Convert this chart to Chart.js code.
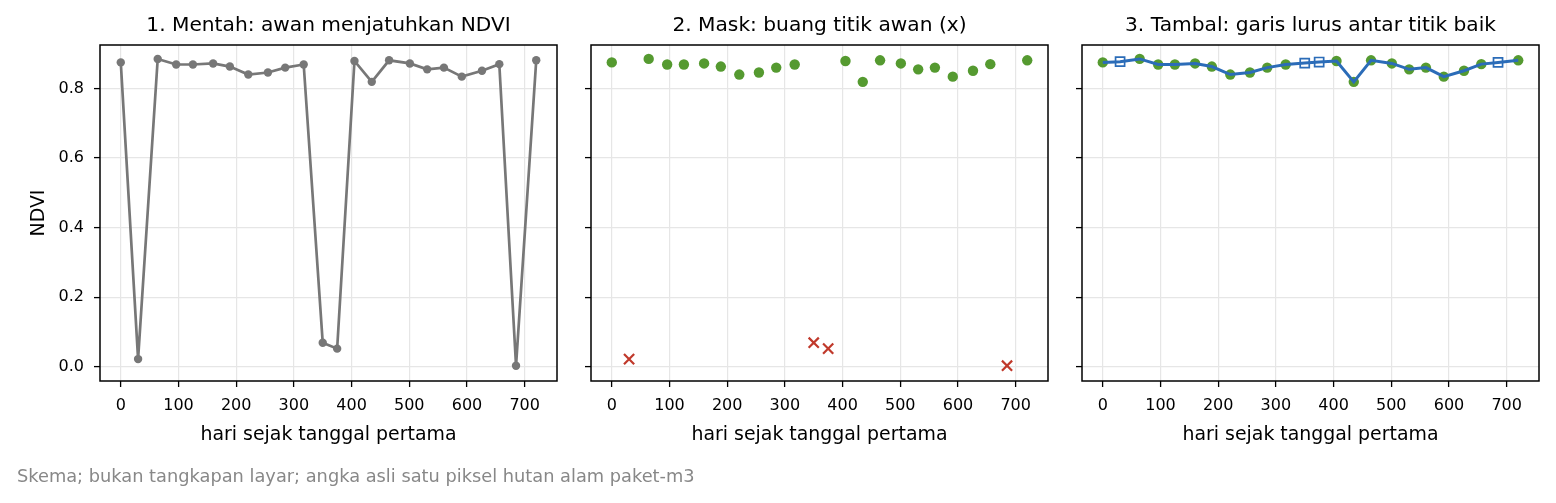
<!DOCTYPE html>
<html>
<head>
<meta charset="utf-8">
<script src="https://cdn.jsdelivr.net/npm/chart.js@4/dist/chart.umd.min.js"></script>
<style>
  html, body { margin: 0; padding: 0; background: #fff; }
  #wrap { position: relative; width: 1556px; height: 503px; }
  #wrap canvas { position: absolute; left: 0; top: 0; }
</style>
</head>
<body>
<div id="wrap">
  <canvas id="c1" width="1556" height="503"></canvas>
  <canvas id="c2" width="1556" height="503"></canvas>
  <canvas id="c3" width="1556" height="503"></canvas>
</div>
<script>
// data
const days = [0, 30, 64, 96, 125, 160, 189, 221, 255, 285, 317, 350, 375, 405, 435, 465, 501, 531, 560, 591, 626, 656, 685, 720]
const ndviRaw = [0.875, 0.022, 0.885, 0.869, 0.869, 0.872, 0.863, 0.840, 0.846, 0.860, 0.869, 0.069, 0.052, 0.879, 0.819, 0.881, 0.872, 0.855, 0.860, 0.834, 0.851, 0.870, 0.003, 0.881]
const cloudyDays = [30, 350, 375, 685]
const filledDays = [30, 350, 375, 685]
const filledNdvi = [0.877, 0.873, 0.876, 0.875]
const xTicks = [0, 100, 200, 300, 400, 500, 600, 700]
const yTicks = [0.0, 0.2, 0.4, 0.6, 0.8]
const titles = [
  "1. Mentah: awan menjatuhkan NDVI",
  "2. Mask: buang titik awan (x)",
  "3. Tambal: garis lurus antar titik baik"
]
const xLabel = "hari sejak tanggal pertama"
const yLabel = "NDVI"
const footnote = "Skema; bukan tangkapan layar; angka asli satu piksel hutan alam paket-m3"

const FONT = "'DejaVu Sans', sans-serif"
const GREY = '#777777', GREEN = '#559a30', RED = '#c0392b', BLUE = '#2b6cb8'

// split raw series into good / cloudy points
const rawPts = days.map((d, i) => ({ x: d, y: ndviRaw[i] }))
const goodPts = rawPts.filter(p => !cloudyDays.includes(p.x))
const badPts = rawPts.filter(p => cloudyDays.includes(p.x))
const filledPts = filledDays.map((d, i) => ({ x: d, y: filledNdvi[i] }))
const linePts = goodPts.concat(filledPts).sort((a, b) => a.x - b.x)

// panel boxes (plot area in page pixels)
const panels = [
  { left: 100, right: 557 },
  { left: 591, right: 1048 },
  { left: 1082, right: 1539 }
]
const TOP = 45, BOTTOM = 381, W = 1556, H = 503

const frame = {
  id: 'frame',
  afterDraw(chart, args, opts) {
    const { ctx, chartArea: a } = chart
    ctx.save()
    ctx.strokeStyle = '#000'
    ctx.lineWidth = 1.5
    ctx.strokeRect(a.left, a.top, a.right - a.left, a.bottom - a.top)

    ctx.fillStyle = '#000'
    ctx.textAlign = 'center'
    ctx.textBaseline = 'alphabetic'
    const cx = (a.left + a.right) / 2
    ctx.font = `20.2px ${FONT}`
    ctx.fillText(opts.title, cx, 31)
    ctx.font = `18.9px ${FONT}`
    ctx.fillText(xLabel, cx, 439.5)

    if (opts.first) {
      ctx.save()
      ctx.translate(43.5, (a.top + a.bottom) / 2)
      ctx.rotate(-Math.PI / 2)
      ctx.fillText(yLabel, 0, 0)
      ctx.restore()

      ctx.fillStyle = '#888888'
      ctx.textAlign = 'left'
      ctx.font = `17.8px ${FONT}`
      ctx.fillText(footnote, 17, 481.5)
    }
    ctx.restore()
  }
}

function makeOptions(i) {
  const p = panels[i]
  return {
    responsive: false,
    animation: false,
    devicePixelRatio: 1,
    layout: { padding: { left: p.left - 60, right: W - p.right, top: TOP, bottom: 0 } },
    plugins: {
      legend: { display: false },
      tooltip: { enabled: false },
      frame: { title: titles[i], first: i === 0 }
    },
    scales: {
      x: {
        type: 'linear',
        min: -36, max: 756,
        afterFit: s => { s.height = H - BOTTOM },
        afterBuildTicks: s => { s.ticks = xTicks.map(v => ({ value: v })) },
        border: { display: false },
        grid: { color: '#e6e6e6', lineWidth: 1.2, tickColor: '#000', tickLength: 6, tickWidth: 1.3 },
        ticks: { color: '#000', font: { family: FONT, size: 16 }, padding: 9, maxRotation: 0, includeBounds: false }
      },
      y: {
        type: 'linear',
        min: -0.041, max: 0.925,
        afterFit: s => { s.width = 60 },
        afterBuildTicks: s => { s.ticks = yTicks.map(v => ({ value: v })) },
        border: { display: false },
        grid: { color: '#e6e6e6', lineWidth: 1.2, tickColor: '#000', tickLength: 6, tickWidth: 1.3 },
        ticks: {
          display: i === 0,
          color: '#000', font: { family: FONT, size: 16 }, padding: 10, includeBounds: false,
          callback: v => v.toFixed(1)
        }
      }
    }
  }
}

new Chart(document.getElementById('c1'), {
  type: 'scatter',
  data: {
    datasets: [{
      data: rawPts, showLine: true,
      borderColor: GREY, borderWidth: 2.7,
      pointRadius: 4.2, pointBackgroundColor: GREY, pointBorderWidth: 0
    }]
  },
  options: makeOptions(0),
  plugins: [frame]
})

new Chart(document.getElementById('c2'), {
  type: 'scatter',
  data: {
    datasets: [
      { data: goodPts, pointRadius: 5.2, pointBackgroundColor: GREEN, pointBorderWidth: 0 },
      { data: badPts, pointStyle: 'crossRot', pointRadius: 7.2, borderColor: RED, pointBorderColor: RED, pointBorderWidth: 2.2 }
    ]
  },
  options: makeOptions(1),
  plugins: [frame]
})

new Chart(document.getElementById('c3'), {
  type: 'scatter',
  data: {
    datasets: [
      { data: linePts, showLine: true, borderColor: BLUE, borderWidth: 3, pointRadius: 0 },
      { data: goodPts, pointRadius: 5.2, pointBackgroundColor: GREEN, pointBorderWidth: 0 },
      { data: filledPts, pointStyle: 'rect', pointRadius: 6.4, pointBackgroundColor: '#fff', pointBorderColor: BLUE, pointBorderWidth: 1.7 }
    ]
  },
  options: makeOptions(2),
  plugins: [frame]
})
</script>
</body>
</html>
